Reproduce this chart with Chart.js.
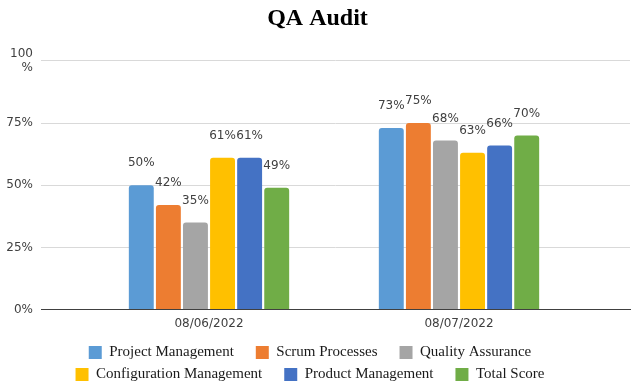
<!DOCTYPE html>
<html>
<head>
<meta charset="utf-8">
<script src="https://cdn.jsdelivr.net/npm/chart.js@4.4.0/dist/chart.umd.min.js"></script>
<style>
  html, body { margin: 0; padding: 0; background: #fff; }
  #wrap { width: 637px; height: 391px; }
</style>
</head>
<body>
<div id="wrap"><canvas id="chart"></canvas></div>
<script>
// --- Data ---
const dates = ['08/06/2022', '08/07/2022'];
const seriesNames = ['Project Management', 'Scrum Processes', 'Quality Assurance',
                     'Configuration Management', 'Product Management', 'Total Score'];
const projectManagement = [50, 73];
const scrumProcesses = [42, 75];
const qualityAssurance = [35, 68];
const configurationManagement = [61, 63];
const productManagement = [61, 66];
const totalScore = [49, 70];
const yTicks = [0, 25, 50, 75, 100];

const seriesValues = [projectManagement, scrumProcesses, qualityAssurance,
                      configurationManagement, productManagement, totalScore];
const seriesColors = ['#5B9BD5', '#ED7D31', '#A5A5A5', '#FFC000', '#4472C4', '#70AD47'];

const sans = '"DejaVu Sans", sans-serif';
const serif = '"Liberation Serif", serif';

// value labels above each bar
const valueLabels = {
    id: 'valueLabels',
    afterDatasetsDraw(chart) {
        const ctx = chart.ctx;
        ctx.save();
        ctx.font = '12px ' + sans;
        ctx.fillStyle = '#404040';
        ctx.textAlign = 'center';
        ctx.textBaseline = 'middle';
        chart.data.datasets.forEach((ds, i) => {
            chart.getDatasetMeta(i).data.forEach((bar, j) => {
                ctx.fillText(ds.data[j].y + '%', bar.x, bar.y - 22);
            });
        });
        ctx.restore();
    }
};

new Chart(document.getElementById('chart'), {
    type: 'bar',
    data: {
        datasets: seriesNames.map((name, i) => ({
            label: name,
            data: seriesValues[i].map((v, j) => ({ x: j, y: v })),
            backgroundColor: seriesColors[i],
            borderWidth: 0,
            borderRadius: 3,
            categoryPercentage: 0.65,
            barPercentage: 0.92
        }))
    },
    options: {
        responsive: true,
        maintainAspectRatio: false,
        animation: false,
        layout: { padding: { left: 5, right: 7, top: 0, bottom: -1 } },
        scales: {
            x: {
                type: 'linear',
                offset: false,
                min: -0.672,
                max: 1.684,
                afterBuildTicks: s => { s.ticks = dates.map((d, i) => ({ value: i })); },
                ticks: {
                    callback: v => dates[v],
                    font: { family: sans, size: 12, lineHeight: 1.2 },
                    color: '#404040',
                    padding: 7,
                    maxRotation: 0
                },
                grid: { display: false, drawTicks: false },
                border: { display: true, color: '#404040', width: 1 }
            },
            y: {
                min: 0,
                max: 100,
                afterBuildTicks: s => { s.ticks = yTicks.map(v => ({ value: v })); },
                afterFit: s => { s.width = 36; },
                ticks: {
                    callback: v => v === 100 ? ['100', '%'] : v + '%',
                    font: { family: sans, size: 12 },
                    color: '#404040',
                    padding: 8
                },
                grid: {
                    color: c => c.tick && c.tick.value === 0 ? 'rgba(0,0,0,0)' : '#d9d9d9',
                    drawTicks: false
                },
                border: { display: false }
            }
        },
        plugins: {
            title: {
                display: true,
                text: 'QA Audit',
                color: '#000',
                font: { family: serif, size: 24, weight: 'bold' },
                padding: { top: 4, bottom: 28 }
            },
            legend: {
                position: 'bottom',
                labels: {
                    boxWidth: 13,
                    boxHeight: 13,
                    padding: 7,
                    color: '#1a1a1a',
                    font: { family: serif, size: 15 },
                    generateLabels: chart => Chart.defaults.plugins.legend.labels.generateLabels(chart)
                        .map(l => ({ ...l, text: l.text + '    ' }))
                }
            },
            tooltip: { enabled: false }
        }
    },
    plugins: [valueLabels]
});
</script>
</body>
</html>
